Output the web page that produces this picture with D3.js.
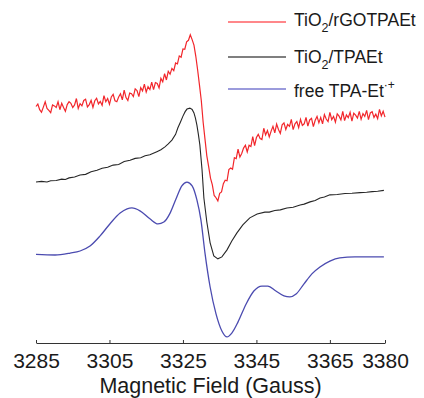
<!DOCTYPE html>
<html>
<head>
<meta charset="utf-8">
<script src="https://d3js.org/d3.v7.min.js"></script>
<style>
    body { margin: 0; background: #fff; }
    #chart-area svg { display: block; font-family: "Liberation Sans", Arial, sans-serif; }
</style>
</head>
<body>
<div id="chart-area"></div>
<script>

// Field axis ticks (Gauss)
let fieldTicks = [3285, 3305, 3325, 3345, 3365, 3380];

// Spectra, [field (G), signal (a.u., stacked with offsets)]
let rgoSpectrum = [
    [3285,73.9],[3285.5,74.7],[3286,72.9],[3286.5,72.1],[3287,73.7],[3287.5,75.4],[3288,73.3],[3288.5,72.7],
    [3289,72.0],[3289.5,74.4],[3290,74.1],[3290.5,73.6],[3291,75.4],[3291.5,72.9],[3292,74.9],[3292.5,73.6],
    [3293,72.4],[3293.5,74.5],[3294,75.4],[3294.5,74.9],[3295,73.6],[3295.5,74.4],[3296,76.4],[3296.5,73.3],
    [3297,74.8],[3297.5,74.1],[3298,75.8],[3298.5,76.2],[3299,73.8],[3299.5,74.5],[3300,75.8],[3300.5,73.6],
    [3301,75.7],[3301.5,76.5],[3302,74.7],[3302.5,75.5],[3303,74.3],[3303.5,77.3],[3304,75.4],[3304.5,76.4],
    [3305,74.6],[3305.5,76.9],[3306,77.7],[3306.5,75.7],[3307,75.4],[3307.5,76.9],[3308,77.9],[3308.5,76.0],
    [3309,79.0],[3309.5,76.7],[3310,75.8],[3310.5,78.1],[3311,77.9],[3311.5,77.0],[3312,79.4],[3312.5,78.9],
    [3313,77.0],[3313.5,79.8],[3314,78.8],[3314.5,80.9],[3315,78.4],[3315.5,80.1],[3316,79.2],[3316.5,81.5],
    [3317,79.2],[3317.5,81.4],[3318,81.1],[3318.5,79.7],[3319,82.7],[3319.5,81.6],[3320,84.2],[3320.5,82.2],
    [3321,84.9],[3321.5,84.0],[3322,85.8],[3322.5,85.1],[3323,87.5],[3323.5,87.2],[3324,89.7],[3324.5,89.3],
    [3325,91.9],[3325.5,91.8],[3326,94.1],[3326.5,94.6],[3327,96.3],[3327.5,94.8],[3328,93.1],[3328.5,89.6],
    [3329,85.3],[3329.5,80.6],[3330,75.7],[3330.5,69.0],[3331,63.7],[3331.5,58.5],[3332,55.1],[3332.5,51.5],
    [3333,49.4],[3333.5,46.1],[3334,45.4],[3334.5,44.4],[3335,46.8],[3335.5,47.2],[3336,49.8],[3336.5,50.9],
    [3337,50.7],[3337.5,54.2],[3338,54.7],[3338.5,54.3],[3339,57.9],[3339.5,57.6],[3340,60.6],[3340.5,58.1],
    [3341,59.2],[3341.5,60.9],[3342,61.8],[3342.5,59.7],[3343,61.8],[3343.5,61.4],[3344,64.5],[3344.5,61.7],
    [3345,64.2],[3345.5,65.2],[3346,63.9],[3346.5,63.6],[3347,67.1],[3347.5,65.0],[3348,66.4],[3348.5,64.4],
    [3349,66.2],[3349.5,67.7],[3350,65.7],[3350.5,68.4],[3351,66.7],[3351.5,65.5],[3352,68.2],[3352.5,68.8],
    [3353,66.7],[3353.5,68.3],[3354,67.7],[3354.5,69.9],[3355,66.7],[3355.5,68.5],[3356,69.2],[3356.5,67.3],
    [3357,69.9],[3357.5,68.0],[3358,68.5],[3358.5,70.5],[3359,67.8],[3359.5,69.7],[3360,70.2],[3360.5,67.6],
    [3361,69.6],[3361.5,70.8],[3362,68.8],[3362.5,70.5],[3363,68.5],[3363.5,71.4],[3364,70.0],[3364.5,69.2],
    [3365,72.1],[3365.5,69.8],[3366,70.8],[3366.5,69.0],[3367,71.6],[3367.5,70.9],[3368,69.7],[3368.5,72.4],
    [3369,69.5],[3369.5,71.3],[3370,70.4],[3370.5,72.1],[3371,69.3],[3371.5,71.8],[3372,71.2],[3372.5,70.3],
    [3373,72.4],[3373.5,69.9],[3374,71.7],[3374.5,70.8],[3375,72.7],[3375.5,69.8],[3376,71.9],[3376.5,72.3],
    [3377,70.5],[3377.5,71.5],[3378,70.1],[3378.5,73.0],[3379,71.0],[3379.5,72.4],[3380,70.6]
];

let tio2Spectrum = [
    [3285,50.3],[3286.5,50.5],[3288,50.3],[3289,50.7],[3290.5,50.8],[3292,51.2],[3293,51.1],[3294,51.6],
    [3295.5,51.9],[3297,52.5],[3298.5,52.7],[3300,53.5],[3301.6,54.0],[3303,54.6],[3304.5,54.9],[3306,55.6],
    [3307.5,55.8],[3309,56.7],[3310.6,57.1],[3312,57.7],[3313.5,57.9],[3314.7,58.5],[3316,58.8],[3317.9,59.8],
    [3319,60.4],[3320.1,61.3],[3321,62.2],[3322,63.4],[3323,65.2],[3323.6,67.2],[3324.3,69.0],[3325,70.9],
    [3325.6,72.3],[3326.1,73.1],[3326.9,73.4],[3327.5,73.0],[3328,71.9],[3328.4,70.3],[3328.8,68.1],[3329.2,65.2],
    [3329.6,61.9],[3330.2,54.1],[3330.7,45.3],[3331.5,37.8],[3332.4,31.3],[3333.4,27.2],[3334.5,26.3],[3335.6,26.9],
    [3337,29.1],[3338.3,31.9],[3339.7,34.4],[3341.3,36.9],[3343.2,39.1],[3345.2,40.3],[3347.3,40.9],[3348.5,40.9],
    [3350,41.4],[3351.5,41.6],[3353.3,42.2],[3355,42.4],[3356.9,43.1],[3358,43.4],[3359.6,44.1],[3361,44.5],
    [3362.3,45.3],[3363.5,45.6],[3365,46.3],[3367,46.4],[3369.1,46.7],[3371,46.8],[3373.2,47.0],[3375,47.1],
    [3376.5,47.3],[3378,47.4],[3379.7,47.7]
];

let freeSpectrum = [
    [3285,27.7],[3290.2,27.5],[3294.3,28.1],[3297,28.75],[3299.7,30.3],[3302.4,33.4],[3305.1,37.2],[3307.9,40.6],
    [3309.8,41.9],[3311.1,42.2],[3313.3,41.3],[3316,38.8],[3318.2,37.2],[3319.8,37.8],[3321.5,40.6],[3323.1,45],
    [3324.7,49.1],[3326.1,50.3],[3327.5,49.1],[3328.8,44.7],[3329.9,38.4],[3331,28.1],[3332.4,17.5],[3334,9.1],
    [3335.6,3.75],[3337,1.9],[3338.3,3.1],[3340,6.6],[3342.2,12.2],[3344.3,16.25],[3346.5,17.8],[3348.1,17.8],
    [3350.3,16.25],[3352.5,14.7],[3354.1,14.4],[3355.8,15.3],[3357.9,18.4],[3360.1,21.6],[3362.3,23.75],[3365,25.6],
    [3367.7,26.6],[3371.8,26.9],[3379.7,26.9]
];

let seriesKeys = ['rgo', 'tio2', 'free'];
let seriesColors = ['#f2262b', '#262626', '#4b4bb0'];
let legendColors = ['#ff5f63', '#555555', '#7a7ad0'];

class EprVis {
    constructor(parentElement) {
        this.parentElement = parentElement;
        this.initVis();
    }

    initVis() {
        let vis = this;

        const width = 424;
        const height = 398;

        vis.svg = d3
            .select('#' + vis.parentElement)
            .append('svg')
            .attr('width', width)
            .attr('height', height);

        // Scales (intensity is arbitrary, no y axis drawn)
        vis.x = d3.scaleLinear().domain([3285, 3380]).range([36, 385]);
        vis.y = d3.scaleLinear().domain([0, 100]).range([343, 23]);

        vis.xAxis = d3.axisBottom(vis.x)
            .tickValues(fieldTicks)
            .tickFormat(d3.format('d'))
            .tickSizeInner(0)
            .tickSizeOuter(0)
            .tickPadding(10);

        vis.gx = vis.svg
            .append('g')
            .attr('class', 'axis x-axis')
            .attr('transform', `translate(0, ${vis.y(0)})`)
            .call(vis.xAxis);

        vis.gx.select('.domain').attr('stroke', '#333');
        vis.gx.selectAll('.tick line').remove();
        vis.gx.selectAll('.tick text')
            .attr('font-size', 21)
            .attr('fill', '#1a1a1a')
            .attr('font-family', '"Liberation Sans", Arial, sans-serif');

        // short ticks pointing up into the plot
        vis.gx.selectAll('.up-tick')
            .data(fieldTicks)
            .enter()
            .append('line')
            .attr('class', 'up-tick')
            .attr('x1', d => vis.x(d) + 0.5)
            .attr('x2', d => vis.x(d) + 0.5)
            .attr('y1', 0)
            .attr('y2', -3)
            .attr('stroke', '#333');

        vis.svg.append('text')
            .attr('x', (vis.x(3285) + vis.x(3380)) / 2)
            .attr('y', 393)
            .attr('text-anchor', 'middle')
            .attr('font-size', 21.5)
            .attr('fill', '#1a1a1a')
            .text('Magnetic Field (Gauss)');

        vis.line = d3.line()
            .x(d => vis.x(d[0]))
            .y(d => vis.y(d[1]));

        vis.smooth = d3.line()
            .curve(d3.curveMonotoneX)
            .x(d => vis.x(d[0]))
            .y(d => vis.y(d[1]));

        vis.updateVis();
    }

    updateVis() {
        let vis = this;

        vis.svg.append('path')
            .datum(freeSpectrum)
            .attr('d', vis.smooth)
            .attr('fill', 'none')
            .attr('stroke', seriesColors[2])
            .attr('stroke-width', 1.3);

        vis.svg.append('path')
            .datum(tio2Spectrum)
            .attr('d', vis.line)
            .attr('fill', 'none')
            .attr('stroke', seriesColors[1])
            .attr('stroke-width', 1.1);

        vis.svg.append('path')
            .datum(rgoSpectrum)
            .attr('d', vis.line)
            .attr('fill', 'none')
            .attr('stroke', seriesColors[0])
            .attr('stroke-width', 1.2);

        // Legend
        let legend = vis.svg.append('g').attr('class', 'legend');
        let rows = [22, 57, 89];

        seriesKeys.forEach((k, i) => {
            legend.append('line')
                .attr('x1', 228).attr('x2', 286)
                .attr('y1', rows[i]).attr('y2', rows[i])
                .attr('stroke', legendColors[i])
                .attr('stroke-width', 1.4);
        });

        let t0 = legend.append('text').attr('x', 294).attr('y', 26).attr('font-size', 17.5).attr('fill', '#1a1a1a');
        t0.append('tspan').text('TiO');
        t0.append('tspan').attr('dy', 6).attr('font-size', 12.5).text('2');
        t0.append('tspan').attr('dy', -6).text('/rGOTPAEt');

        let t1 = legend.append('text').attr('x', 294).attr('y', 63).attr('font-size', 17.5).attr('fill', '#1a1a1a');
        t1.append('tspan').text('TiO');
        t1.append('tspan').attr('dy', 6).attr('font-size', 12.5).text('2');
        t1.append('tspan').attr('dy', -6).text('/TPAEt');

        let t2 = legend.append('text').attr('x', 294).attr('y', 97).attr('font-size', 17.5).attr('fill', '#1a1a1a');
        t2.append('tspan').text('free TPA-Et');
        t2.append('tspan').attr('dy', -8).attr('font-size', 12).text('·+');
    }
}

new EprVis('chart-area');

</script>
</body>
</html>
